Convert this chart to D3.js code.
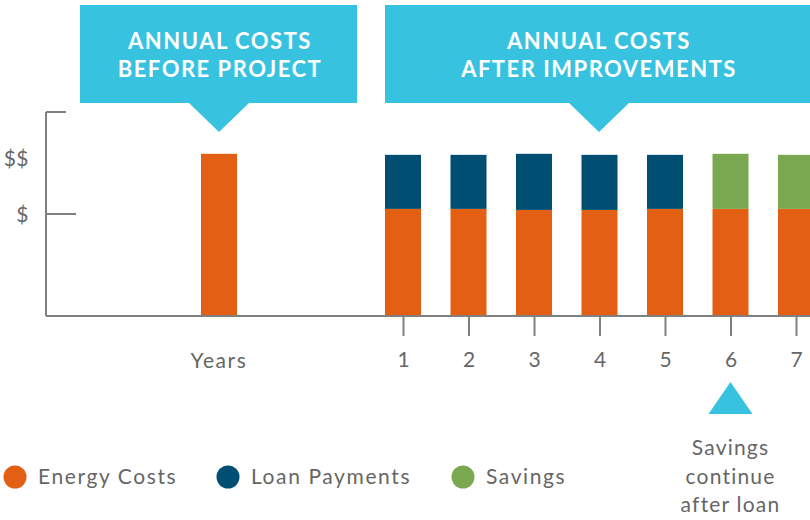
<!DOCTYPE html>
<html>
<head>
<meta charset="utf-8">
<script src="https://cdn.jsdelivr.net/npm/d3@7"></script>
<style>
  body { margin: 0; background: #fff; }
  text { font-family: Lato, "Open Sans", sans-serif; }
</style>
</head>
<body>
<div id="chart"></div>
<script>
// data
var years = [1, 2, 3, 4, 5, 6, 7];
var beforeEnergy = 1.59;
var energyCosts = [1.05, 1.05, 1.04, 1.04, 1.05, 1.05, 1.05];
var loanPayments = [0.53, 0.53, 0.55, 0.54, 0.53, 0, 0];
var savings = [0, 0, 0, 0, 0, 0.54, 0.53];
var yTickValues = [1, 2];
var yLabels = ["$", "$$"];
var yLabelValues = [1, 1.55];
var legendNames = ["Energy Costs", "Loan Payments", "Savings"];

var width = 810,
    height = 520;

var colors = { energy: "#e25f14", loan: "#004f73", savings: "#7aa851" };
var cyan = "#37c2e0";
var axisGrey = "#808080";
var textGrey = "#666";

var svg = d3.select("#chart").append("svg")
  .attr("width", width)
  .attr("height", height);

var x = d3.scaleLinear().domain([1, 7]).range([403, 796]);
var y = d3.scaleLinear().domain([0, 2]).range([316, 112]);
var barW = 36;
var xBefore = 219;

// stacked data
var rows = years.map(function(yr, i) {
  return { year: yr, energy: energyCosts[i], loan: loanPayments[i], savings: savings[i] };
});
var stack = d3.stack().keys(["energy", "loan", "savings"]);
var series = stack(rows);

// callouts
function callout(x0, x1, tipX, textX, lines) {
  var g = svg.append("g");
  g.append("path")
    .attr("d", "M" + x0 + ",5H" + x1 + "V103H" + (tipX + 30) + "L" + tipX + ",132L" + (tipX - 30) + ",103H" + x0 + "Z")
    .attr("fill", cyan);
  g.append("text")
    .attr("text-anchor", "middle")
    .attr("fill", "#fff")
    .attr("font-weight", "bold")
    .attr("font-size", 22)
    .attr("letter-spacing", 1.5)
    .selectAll("tspan")
    .data(lines)
    .enter().append("tspan")
    .attr("x", textX)
    .attr("y", function(d, i) { return 48.5 + i * 28.5; })
    .text(function(d) { return d; });
}
callout(80, 357, 219, 220, ["ANNUAL COSTS", "BEFORE PROJECT"]);
callout(385, 820, 599, 599, ["ANNUAL COSTS", "AFTER IMPROVEMENTS"]);

// before bar
svg.append("rect")
  .attr("x", xBefore - barW / 2)
  .attr("y", y(beforeEnergy))
  .attr("width", barW)
  .attr("height", y(0) - y(beforeEnergy))
  .attr("fill", colors.energy);

// after bars
svg.selectAll("g.layer")
  .data(series)
  .enter().append("g")
  .attr("class", "layer")
  .attr("fill", function(d) { return colors[d.key]; })
  .selectAll("rect")
  .data(function(d) { return d; })
  .enter().append("rect")
  .attr("x", function(d) { return x(d.data.year) - barW / 2; })
  .attr("y", function(d) { return y(d[1]); })
  .attr("width", barW)
  .attr("height", function(d) { return y(d[0]) - y(d[1]); });

// y axis
svg.append("line")
  .attr("x1", 46).attr("x2", 46)
  .attr("y1", y(2)).attr("y2", y(0))
  .attr("stroke", axisGrey).attr("stroke-width", 2);
svg.selectAll(".ytick")
  .data(yTickValues)
  .enter().append("line")
  .attr("x1", 46)
  .attr("x2", function(d) { return d === 2 ? 66 : 76; })
  .attr("y1", function(d) { return y(d); })
  .attr("y2", function(d) { return y(d); })
  .attr("stroke", axisGrey).attr("stroke-width", 2);
svg.selectAll(".ylabel")
  .data(yLabels)
  .enter().append("text")
  .attr("x", 29)
  .attr("y", function(d, i) { return y(yLabelValues[i]) + 8; })
  .attr("text-anchor", "end")
  .attr("font-size", 21)
  .attr("letter-spacing", 0.5)
  .attr("fill", textGrey)
  .text(function(d) { return d; });

// x axis
svg.append("line")
  .attr("x1", 46).attr("x2", width)
  .attr("y1", y(0)).attr("y2", y(0))
  .attr("stroke", axisGrey).attr("stroke-width", 2);

var xAxis = svg.append("g")
  .attr("transform", "translate(0," + y(0) + ")")
  .call(d3.axisBottom(x).tickValues(years).tickSize(20).tickPadding(16).tickFormat(d3.format("d")));
xAxis.select(".domain").remove();
xAxis.selectAll(".tick line").attr("stroke", axisGrey).attr("stroke-width", 2);
xAxis.selectAll(".tick text")
  .attr("font-family", "Lato, sans-serif")
  .attr("font-size", 21)
  .attr("fill", textGrey);

svg.append("text")
  .attr("x", xBefore)
  .attr("y", 368)
  .attr("text-anchor", "middle")
  .attr("font-size", 21)
  .attr("letter-spacing", 1.6)
  .attr("fill", textGrey)
  .text("Years");

// savings note
svg.append("path")
  .attr("d", "M" + x(6) + ",382L" + (x(6) + 22) + ",414L" + (x(6) - 22) + ",414Z")
  .attr("fill", cyan);
svg.append("text")
  .attr("text-anchor", "middle")
  .attr("font-size", 21)
  .attr("letter-spacing", 1.2)
  .attr("fill", textGrey)
  .selectAll("tspan")
  .data(["Savings", "continue", "after loan"])
  .enter().append("tspan")
  .attr("x", x(6))
  .attr("y", function(d, i) { return 455 + i * 28.5; })
  .text(function(d) { return d; });

// legend
var legendX = [15, 228, 463];
var legendColors = [colors.energy, colors.loan, colors.savings];
var legend = svg.selectAll(".legend")
  .data(legendNames)
  .enter().append("g")
  .attr("class", "legend")
  .attr("transform", function(d, i) { return "translate(" + legendX[i] + ",477)"; });
legend.append("circle")
  .attr("r", 11.5)
  .attr("fill", function(d, i) { return legendColors[i]; });
legend.append("text")
  .attr("x", 23)
  .attr("y", 7)
  .attr("font-size", 21)
  .attr("letter-spacing", 1.6)
  .attr("fill", textGrey)
  .text(function(d) { return d; });
</script>
</body>
</html>
